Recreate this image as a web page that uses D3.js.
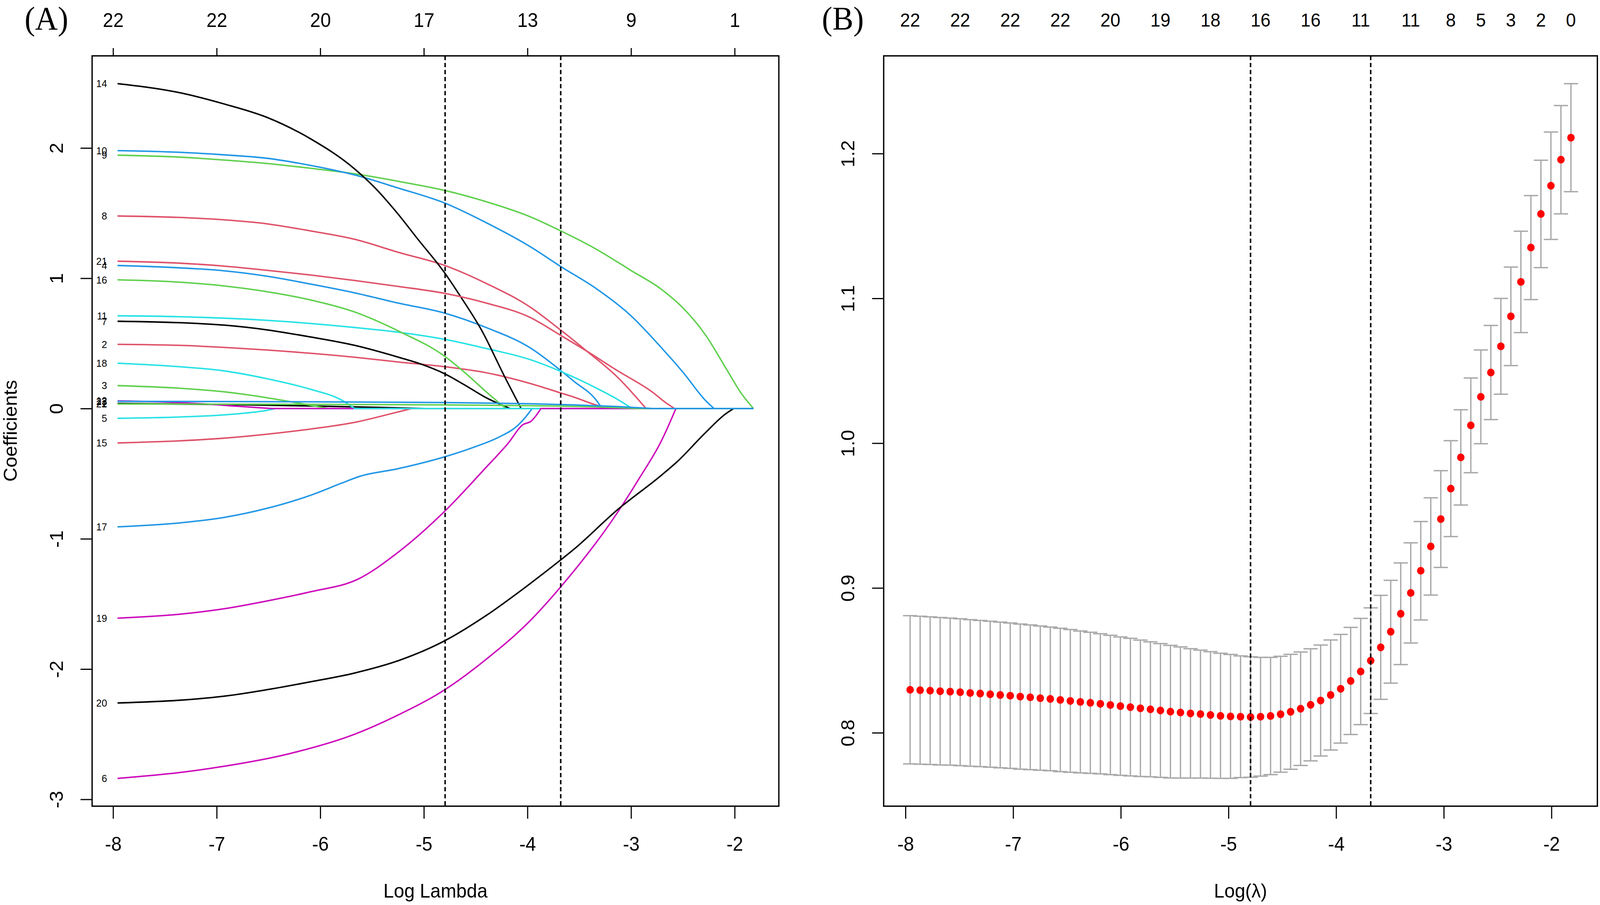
<!DOCTYPE html>
<html>
<head>
<meta charset="utf-8">
<script src="https://cdn.jsdelivr.net/npm/d3@7"></script>
<style>
  html, body { margin: 0; padding: 0; background: #fff; width: 100%; height: 100%; overflow: hidden; }
  svg { display: block; width: 100vw; height: 100vh; font-family: "Liberation Sans", Arial, sans-serif; }
</style>
</head>
<body>
<svg id="chart" viewBox="0 0 4273 2317" preserveAspectRatio="none"></svg>
<script>
// R default palette, matplot cycles the first six
const palette = ["#000000", "#DF536B", "#61D04F", "#2297E6", "#28E2E5", "#CD0BBC"];

// ---- panel A: coefficient paths (log lambda, coefficient) ----
const varIds = [1, 2, 3, 4, 5, 6, 7, 8, 9, 10, 11, 12, 14, 15, 16, 17, 18, 19, 20, 21, 22, 23];
const coefPaths = [
  [[-7.957,0.039],[-6.937,0.031],[-6.091,0.020],[-5.457,0.009],[-4.992,0]],
  [[-7.957,0.493],[-7.360,0.485],[-6.514,0.449],[-5.668,0.394],[-5.245,0.357],[-4.797,0.321],[-4.399,0.275],[-3.976,0.193],[-3.676,0.119],[-3.553,0.088],[-3.342,0.028],[-3.215,0]],
  [[-7.957,0.176],[-7.360,0.156],[-6.937,0.129],[-6.514,0.083],[-6.176,0.037],[-5.922,0]],
  [[-7.957,1.098],[-7.360,1.080],[-6.937,1.058],[-6.514,1.016],[-6.091,0.955],[-5.668,0.888],[-5.245,0.809],[-4.797,0.732],[-4.399,0.622],[-3.976,0.467],[-3.676,0.290],[-3.553,0.210],[-3.342,0.070],[-3.278,0]],
  [[-7.957,-0.075],[-7.360,-0.065],[-6.937,-0.049],[-6.725,-0.035],[-6.514,-0.014],[-6.430,0]],
  [[-7.957,-2.839],[-7.360,-2.794],[-6.937,-2.747],[-6.302,-2.650],[-5.668,-2.500],[-5.245,-2.351],[-4.797,-2.158],[-4.399,-1.925],[-3.976,-1.630],[-3.676,-1.366],[-3.130,-0.797],[-2.919,-0.533],[-2.707,-0.248],[-2.567,0]],
  [[-7.957,0.670],[-7.360,0.659],[-6.937,0.641],[-6.514,0.604],[-6.091,0.549],[-5.668,0.485],[-5.245,0.394],[-5.034,0.343],[-4.797,0.266],[-4.611,0.183],[-4.399,0.083],[-4.166,0]],
  [[-7.957,1.478],[-7.360,1.467],[-6.937,1.449],[-6.514,1.418],[-6.091,1.363],[-5.668,1.299],[-5.245,1.199],[-4.797,1.098],[-4.399,0.961],[-3.976,0.780],[-3.676,0.600],[-3.426,0.440],[-3.130,0.240],[-2.855,0]],
  [[-7.957,1.945],[-7.360,1.930],[-6.937,1.908],[-6.514,1.881],[-6.091,1.844],[-5.668,1.802],[-5.245,1.744],[-4.797,1.674],[-4.399,1.588],[-3.976,1.473],[-3.676,1.363],[-3.342,1.226],[-3.003,1.061],[-2.707,0.915],[-2.495,0.769],[-2.284,0.568],[-2.072,0.293],[-1.946,0.128],[-1.819,0]],
  [[-7.957,1.980],[-7.360,1.967],[-6.937,1.948],[-6.514,1.921],[-6.091,1.866],[-5.668,1.793],[-5.245,1.692],[-4.797,1.577],[-4.399,1.427],[-3.976,1.244],[-3.676,1.089],[-3.342,0.924],[-3.003,0.714],[-2.707,0.467],[-2.495,0.275],[-2.284,0.064],[-2.199,0]],
  [[-7.957,0.712],[-7.360,0.705],[-6.514,0.677],[-5.668,0.622],[-5.245,0.586],[-4.797,0.531],[-4.399,0.461],[-3.976,0.376],[-3.676,0.284],[-3.342,0.160],[-3.130,0.070],[-2.990,0]],
  [[-7.957,0.059],[-7.571,0.052],[-7.149,0.037],[-6.810,0.018],[-6.472,0]],
  [[-7.957,2.494],[-7.360,2.425],[-6.937,2.340],[-6.511,2.234],[-6.095,2.071],[-5.680,1.847],[-5.473,1.695],[-5.265,1.508],[-5.058,1.300],[-4.798,1.040],[-4.642,0.855],[-4.435,0.590],[-4.227,0.255],[-4.061,0]],
  [[-7.957,-0.264],[-7.360,-0.248],[-6.937,-0.228],[-6.514,-0.197],[-6.091,-0.157],[-5.668,-0.106],[-5.245,-0.025],[-5.118,0]],
  [[-7.957,0.988],[-7.360,0.970],[-6.937,0.942],[-6.514,0.897],[-6.091,0.833],[-5.668,0.741],[-5.245,0.595],[-4.797,0.400],[-4.611,0.280],[-4.399,0.129],[-4.209,0]],
  [[-7.957,-0.908],[-7.360,-0.878],[-6.937,-0.837],[-6.514,-0.766],[-6.091,-0.665],[-5.795,-0.573],[-5.626,-0.522],[-5.245,-0.461],[-4.797,-0.370],[-4.526,-0.299],[-4.272,-0.218],[-4.103,-0.136],[-4.018,-0.065],[-3.955,0]],
  [[-7.957,0.348],[-7.360,0.321],[-6.937,0.290],[-6.514,0.229],[-6.091,0.147],[-5.795,0.065],[-5.668,0]],
  [[-7.957,-1.609],[-7.360,-1.579],[-6.937,-1.538],[-6.514,-1.477],[-6.091,-1.406],[-5.634,-1.309],[-5.245,-1.101],[-4.797,-0.787],[-4.399,-0.451],[-4.188,-0.268],[-4.048,-0.126],[-3.963,-0.096],[-3.870,0]],
  [[-7.957,-2.260],[-7.360,-2.239],[-6.937,-2.209],[-6.514,-2.158],[-6.091,-2.097],[-5.668,-2.030],[-5.245,-1.935],[-4.797,-1.782],[-4.399,-1.589],[-3.976,-1.345],[-3.676,-1.160],[-3.553,-1.081],[-3.130,-0.776],[-2.707,-0.512],[-2.559,-0.411],[-2.284,-0.187],[-2.094,-0.045],[-2.009,0]],
  [[-7.957,1.131],[-7.360,1.116],[-6.937,1.094],[-6.514,1.061],[-6.091,1.025],[-5.668,0.983],[-5.245,0.937],[-4.797,0.884],[-4.399,0.810],[-3.976,0.700],[-3.676,0.560],[-3.426,0.440],[-3.130,0.290],[-2.792,0.125],[-2.665,0.045],[-2.580,0]],
  [[-7.957,0.035],[-6.514,0.033],[-4.797,0.028],[-3.976,0.022],[-3.342,0.013],[-2.919,0]],
  [[-7.957,0.055],[-6.514,0.053],[-4.797,0.046],[-3.976,0.037],[-3.553,0.028],[-3.130,0.015],[-2.792,0]]
];
const xTicks = [-8, -7, -6, -5, -4, -3, -2];
const dfLabels = [22, 22, 20, 17, 13, 9, 1];
const coefTicks = [-3, -2, -1, 0, 1, 2];

// ---- panel B: cross-validation curve ----
const logLambda = [
  -1.819,-1.912,-2.005,-2.098,-2.191,-2.284,-2.377,-2.470,-2.563,-2.656,
  -2.749,-2.842,-2.935,-3.028,-3.121,-3.214,-3.307,-3.400,-3.493,-3.586,
  -3.679,-3.772,-3.865,-3.958,-4.051,-4.144,-4.237,-4.330,-4.423,-4.516,
  -4.609,-4.702,-4.795,-4.888,-4.981,-5.074,-5.167,-5.260,-5.353,-5.446,
  -5.539,-5.632,-5.725,-5.818,-5.911,-6.004,-6.097,-6.190,-6.283,-6.376,
  -6.469,-6.562,-6.655,-6.748,-6.841,-6.934,-7.027,-7.120,-7.213,-7.306,
  -7.399,-7.492,-7.585,-7.678,-7.771,-7.864,-7.957
];
const cvm = [
  1.2110,1.1958,1.1778,1.1583,1.1351,1.1114,1.0876,1.0669,1.0488,1.0320,
  1.0123,0.9902,0.9686,0.9476,0.9287,0.9119,0.8966,0.8822,0.8698,0.8590,
  0.8498,0.8423,0.8358,0.8304,0.8261,0.8223,0.8193,0.8166,0.8145,0.8128,
  0.8116,0.8111,0.8109,0.8111,0.8113,0.8117,0.8123,0.8129,0.8134,0.8140,
  0.8146,0.8154,0.8162,0.8169,0.8177,0.8184,0.8192,0.8200,0.8207,0.8213,
  0.8220,0.8227,0.8234,0.8239,0.8245,0.8250,0.8256,0.8261,0.8266,0.8271,
  0.8275,0.8280,0.8284,0.8287,0.8291,0.8294,0.8297
];
const cvsd = [
  0.0373,0.0374,0.0371,0.0371,0.0359,0.0350,0.0340,0.0331,0.0325,0.0324,
  0.0327,0.0329,0.0331,0.0334,0.0336,0.0340,0.0346,0.0351,0.0355,0.0359,
  0.0365,0.0367,0.0370,0.0375,0.0380,0.0383,0.0387,0.0392,0.0397,0.0400,
  0.0405,0.0410,0.0416,0.0420,0.0428,0.0432,0.0437,0.0442,0.0447,0.0453,
  0.0458,0.0462,0.0466,0.0471,0.0475,0.0478,0.0481,0.0484,0.0487,0.0490,
  0.0493,0.0495,0.0496,0.0498,0.0500,0.0501,0.0502,0.0503,0.0504,0.0505,
  0.0506,0.0507,0.0508,0.0509,0.0510,0.0511,0.0512
];
const nzIdx = [0, 3, 6, 9, 12, 16, 21, 26, 31, 36, 41, 46, 51, 56, 61, 66];
const nzLabels = [0, 2, 3, 5, 8, 11, 11, 16, 16, 18, 19, 20, 22, 22, 22, 22];
const cvTicks = [0.8, 0.9, 1.0, 1.1, 1.2];

// chosen lambdas, from the cv curve
const iMin = d3.minIndex(cvm);
const thresh = cvm[iMin] + cvsd[iMin];
const i1se = cvm.findIndex(v => v <= thresh);
const vlines = [logLambda[iMin], logLambda[i1se]];

const svg = d3.select("#chart");
const fs = 50;

// R style range: data extent padded by 4%
function rRange(vals) {
  const e = d3.extent(vals), p = (e[1] - e[0]) * 0.04;
  return [e[0] - p, e[1] + p];
}

function styleAxis(g) {
  g.select(".domain").remove();
  g.selectAll(".tick line").attr("stroke", "#000").attr("stroke-width", 3);
  g.selectAll(".tick text").attr("fill", "#000").attr("font-size", fs)
    .attr("font-family", "'Liberation Sans', Arial, sans-serif");
}

function frame(box) {
  svg.append("rect").attr("x", box.left).attr("y", box.top)
    .attr("width", box.right - box.left).attr("height", box.bottom - box.top)
    .attr("fill", "none").attr("stroke", "#000").attr("stroke-width", 3.5);
}

function dotted(box, x) {
  vlines.forEach(v => {
    svg.append("line").attr("x1", x(v)).attr("x2", x(v))
      .attr("y1", box.top).attr("y2", box.bottom)
      .attr("stroke", "#000").attr("stroke-width", 4).attr("stroke-dasharray", "11,7");
  });
}

function bottomAxis(box, x, title) {
  const g = svg.append("g").attr("transform", `translate(0,${box.bottom})`)
    .call(d3.axisBottom(x).tickValues(xTicks).tickSize(32).tickPadding(47).tickFormat(d => String(d)));
  styleAxis(g);
  svg.append("text").attr("x", (box.left + box.right) / 2).attr("y", 2298)
    .attr("text-anchor", "middle").attr("font-size", fs).text(title);
}

function leftAxis(box, y, ticks, fmt) {
  const g = svg.append("g").attr("transform", `translate(${box.left},0)`)
    .call(d3.axisLeft(y).tickValues(ticks).tickSize(31).tickFormat(fmt));
  styleAxis(g);
  g.selectAll(".tick text").attr("x", null).attr("dy", null)
    .attr("text-anchor", "middle").attr("transform", "translate(-78,0) rotate(-90)");
}

// ================= panel A =================
const A = { left: 246, right: 2080, top: 143, bottom: 2064 };
const xDom = rRange(logLambda);
const xA = d3.scaleLinear().domain(xDom).range([A.left, A.right]);
const yA = d3.scaleLinear().domain(rRange(coefPaths.flat().map(p => p[1]))).range([A.bottom, A.top]);
const xEnd = d3.max(logLambda);

const line = d3.line().x(d => xA(d[0])).y(d => yA(d[1])).curve(d3.curveMonotoneX);

const gA = svg.append("g");
coefPaths.forEach((pts, i) => {
  const last = pts[pts.length - 1];
  let d = line(pts);
  if (last[0] < xEnd) d += `L${xA(xEnd)},${yA(0)}`;
  gA.append("path").attr("d", d).attr("fill", "none")
    .attr("stroke", palette[i % palette.length]).attr("stroke-width", 3.8)
    .attr("stroke-linejoin", "round");
});

coefPaths.forEach((pts, i) => {
  svg.append("text").attr("x", xA(pts[0][0]) - 28).attr("y", yA(pts[0][1]))
    .attr("text-anchor", "end").attr("dominant-baseline", "central")
    .attr("font-size", 26).text(varIds[i]);
});

dotted(A, xA);
frame(A);
bottomAxis(A, xA, "Log Lambda");
leftAxis(A, yA, coefTicks, d => String(d));

const topA = svg.append("g").attr("transform", `translate(0,${A.top})`)
  .call(d3.axisTop(xA).tickValues(xTicks).tickSize(20).tickPadding(54).tickFormat((d, i) => dfLabels[i]));
styleAxis(topA);

svg.append("text").attr("transform", "translate(45,1103) rotate(-90)")
  .attr("text-anchor", "middle").attr("font-size", fs).text("Coefficients");

svg.append("text").attr("x", 124).attr("y", 76).attr("text-anchor", "middle")
  .attr("font-family", "'Liberation Serif', 'Times New Roman', serif").attr("font-size", 84).text("(A)");

// ================= panel B =================
const B = { left: 2360, right: 4266, top: 143, bottom: 2064 };
const xB = d3.scaleLinear().domain(xDom).range([B.left, B.right]);
const cvLo = cvm.map((v, i) => v - cvsd[i]);
const cvUp = cvm.map((v, i) => v + cvsd[i]);
const yB = d3.scaleLinear().domain(rRange(cvLo.concat(cvUp))).range([B.bottom, B.top]);

const cap = 19;
const gBars = svg.append("g").attr("stroke", "#A9A9A9").attr("stroke-width", 3.5);
logLambda.forEach((lx, i) => {
  const cx = xB(lx);
  gBars.append("line").attr("x1", cx).attr("x2", cx).attr("y1", yB(cvLo[i])).attr("y2", yB(cvUp[i]));
  gBars.append("line").attr("x1", cx - cap).attr("x2", cx + cap).attr("y1", yB(cvUp[i])).attr("y2", yB(cvUp[i]));
  gBars.append("line").attr("x1", cx - cap).attr("x2", cx + cap).attr("y1", yB(cvLo[i])).attr("y2", yB(cvLo[i]));
});

svg.append("g").selectAll("circle").data(cvm).enter().append("circle")
  .attr("cx", (d, i) => xB(logLambda[i])).attr("cy", d => yB(d))
  .attr("r", 10).attr("fill", "#FF0000");

dotted(B, xB);
frame(B);
bottomAxis(B, xB, "Log(\u03BB)");
leftAxis(B, yB, cvTicks, d3.format(".1f"));

nzIdx.forEach((idx, k) => {
  svg.append("text").attr("x", xB(logLambda[idx])).attr("y", 68)
    .attr("text-anchor", "middle").attr("font-size", 48).text(nzLabels[k]);
});

svg.append("text").attr("x", 2251).attr("y", 76).attr("text-anchor", "middle")
  .attr("font-family", "'Liberation Serif', 'Times New Roman', serif").attr("font-size", 84).text("(B)");
</script>
</body>
</html>
